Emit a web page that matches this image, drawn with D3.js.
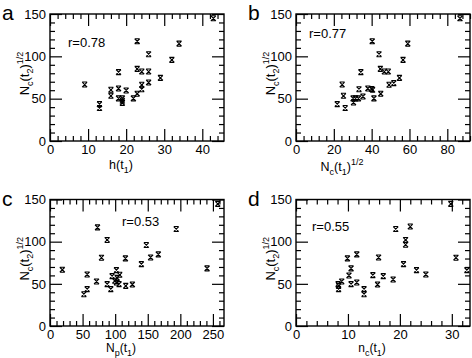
<!DOCTYPE html>
<html>
<head>
<meta charset="utf-8">
<script src="https://cdn.jsdelivr.net/npm/d3@7"></script>
<style>
body { margin:0; background:#fff; }
svg text { font-family: "Liberation Sans", Arial, sans-serif; fill:#000; }
.frame { fill:none; stroke:#000; stroke-width:1.4; }
.axis path { display:none; }
.axis line { stroke:#000; stroke-width:1.2; }
.axis text { font-size:13px; }
.pt { fill:none; stroke:#000; stroke-width:1.1; }
</style>
</head>
<body>
<div id="chart"></div>
<script>
// values; y is N_c(t2)^1/2 in every panel
var aX = [42.9,22.9,33.9,25.9,32,22.9,18,24.1,25.9,29,9.1,24.1,25.9,16,18,20,24.1,16,22.9,18,19,19,19,21.9,13,13];
var aY = [144.9,117.8,115,102.5,95.8,85.2,81.3,82,82,74.6,66.7,66.4,69.1,60.5,62,59.7,61.2,53.4,55.8,50.3,50.3,47.5,45,50.3,43.6,38.9];

var bX = [86.7,40.3,59.1,43.9,56.6,44.6,34.3,46.7,48.8,54.7,24.4,49.2,51.7,33.3,38,40.5,40,25.1,44.8,31.5,30.2,33,41.2,35.4,21.8,30.4,26];
var bY = [144.9,117.8,115,102.5,95.8,85.2,81.3,82,82,74.6,66.7,66.4,68.3,61.2,62,60.5,61.5,53.4,55.8,50.3,50.3,50.3,50.3,52.6,43.6,45.5,38.9];

var cX = [257.4,72.9,193.7,87.7,147.8,79,115.7,154.4,166.2,140.2,18.9,101.9,241,57,95.3,107,103,71.4,57,52,87.7,102,106,116.2,126.4,93.3,99.4];
var cY = [144.8,117,115,102,96,81,80.2,81.3,84.9,73.4,66.7,66.3,68.3,61.1,59.1,60.7,57.1,52.8,43.7,37.7,49.6,51.6,49.6,47.6,49.2,43.7,53.6];

var dX = [29.8,22,19.2,21.1,21.1,9.9,11.7,15.9,30.8,20.7,10.6,23.2,32.9,10.2,14.8,16.8,25,8.8,11.7,10.6,18.7,15.7,8.1,8.2,8.2,13.1,13.1];
var dY = [144.8,117.9,115,102,96.4,80.2,84.9,81.3,81,73.4,68.3,66.3,66.3,59.9,60.3,59.1,61.1,52.8,51.6,49.6,55.2,49.2,49.6,47.6,43.7,43.7,37.7];

var letters = ["a","b","c","d"];
var rTexts = ["r=0.78","r=0.77","r=0.53","r=0.55"];
var xMax = [45.7, 92, 267, 33.5];
var xMajor = [10, 20, 50, 10];
var xMinor = [2, 4, 10, 2];
var yMax = 150, yMajor = 50, yMinor = 10;

var svg = d3.select("#chart").append("svg")
    .attr("width", 472).attr("height", 358);

var frames = [
  {left:50, top:14, w:174, h:127},
  {left:296, top:14, w:174, h:127},
  {left:50, top:199.5, w:174, h:126.5},
  {left:296, top:199.5, w:174, h:126.5}
];
var rPos = [[68,47],[309,38],[122,226],[312,231]];
var xs = [aX,bX,cX,dX], ys = [aY,bY,cY,dY];

var marker = "M-2.5,-2.5L2.5,2.5M-2.5,2.5L2.5,-2.5M-2.5,-2.5H2.5M-2.5,2.5H2.5";

function ticksOf(max, step){
    return d3.range(0, max + 1e-9, step);
}

// text with sub/superscripts: parts = [[text, shift]] shift 1 = sub, -1 = sup
function rich(t, parts){
    var cur = 0;
    parts.forEach(function(p){
        var sh = p[1] || 0;
        var target = sh == 1 ? 3.5 : (sh == -1 ? -6 : 0);
        var ts = t.append("tspan").attr("dy", target - cur).text(p[0]);
        cur = target;
        if(sh) ts.style("font-size","9px");
    });
}

function drawPanel(i){
    var f = frames[i];
    var g = svg.append("g").attr("transform", "translate("+f.left+","+f.top+")");

    var x = d3.scaleLinear().domain([0, xMax[i]]).range([0, f.w]);
    var y = d3.scaleLinear().domain([0, yMax]).range([f.h, 0]);

    var xmaj = ticksOf(xMax[i], xMajor[i]);
    var xmin = ticksOf(xMax[i], xMinor[i]).filter(function(v){ return v % xMajor[i] != 0; });
    var ymaj = ticksOf(yMax, yMajor);
    var ymin = ticksOf(yMax, yMinor).filter(function(v){ return v % yMajor != 0; });

    // bottom with labels
    g.append("g").attr("class","axis").attr("transform","translate(0,"+f.h+")")
        .call(d3.axisBottom(x).tickValues(xmaj).tickSize(-12).tickSizeOuter(0).tickPadding(4).tickFormat(d3.format("d")))
        .selectAll("text").attr("dy","0.71em").attr("y", 4);
    g.append("g").attr("class","axis").attr("transform","translate(0,"+f.h+")")
        .call(d3.axisBottom(x).tickValues(xmin).tickSize(-5).tickSizeOuter(0).tickFormat(""));
    // top mirror
    g.append("g").attr("class","axis")
        .call(d3.axisTop(x).tickValues(xmaj).tickSize(-12).tickSizeOuter(0).tickFormat(""));
    g.append("g").attr("class","axis")
        .call(d3.axisTop(x).tickValues(xmin).tickSize(-5).tickSizeOuter(0).tickFormat(""));
    // left with labels
    g.append("g").attr("class","axis")
        .call(d3.axisLeft(y).tickValues(ymaj).tickSize(-12).tickSizeOuter(0).tickPadding(4).tickFormat(d3.format("d")))
        .selectAll("text").attr("x", -4);
    g.append("g").attr("class","axis")
        .call(d3.axisLeft(y).tickValues(ymin).tickSize(-5).tickSizeOuter(0).tickFormat(""));
    // right mirror
    g.append("g").attr("class","axis").attr("transform","translate("+f.w+",0)")
        .call(d3.axisRight(y).tickValues(ymaj).tickSize(-12).tickSizeOuter(0).tickFormat(""));
    g.append("g").attr("class","axis").attr("transform","translate("+f.w+",0)")
        .call(d3.axisRight(y).tickValues(ymin).tickSize(-5).tickSizeOuter(0).tickFormat(""));

    g.append("rect").attr("class","frame").attr("width", f.w).attr("height", f.h);

    var pts = d3.zip(xs[i], ys[i]);
    g.selectAll("path.pt").data(pts).enter().append("path")
        .attr("class","pt")
        .attr("d", marker)
        .attr("transform", function(d){ return "translate("+x(d[0])+","+y(d[1])+")"; });

    svg.append("text").attr("x", rPos[i][0]).attr("y", rPos[i][1])
        .style("font-size","13px").text(rTexts[i]);

    svg.append("text").attr("x", f.left - 48).attr("y", f.top + 6)
        .style("font-size","21px").text(letters[i]);

    // y title N_c(t_2)^1/2
    var yt = svg.append("text")
        .attr("transform", "translate("+(f.left - 21)+","+(f.top + f.h/2 - 4)+") rotate(-90)")
        .attr("text-anchor","middle").style("font-size","13px");
    rich(yt, [["N"],["c",1],["(t"],["2",1],[")"],["1/2",-1]]);
}

for(var i=0; i<4; i++) drawPanel(i);

// x titles
var xTitles = [
  {x:121, y:169, size:12.5, parts:[["h(t"],["1",1],[")"]]},
  {x:342, y:171, size:12.5, parts:[["N"],["c",1],["(t"],["1",1],[")"],["1/2",-1]]},
  {x:121, y:352, size:12, parts:[["N"],["p",1],["(t"],["1",1],[")"]]},
  {x:372, y:352, size:12, parts:[["n"],["c",1],["(t"],["1",1],[")"]]}
];
xTitles.forEach(function(d){
    var t = svg.append("text").attr("x", d.x).attr("y", d.y)
        .attr("text-anchor","middle").style("font-size", d.size+"px");
    rich(t, d.parts);
});
</script>
</body>
</html>
